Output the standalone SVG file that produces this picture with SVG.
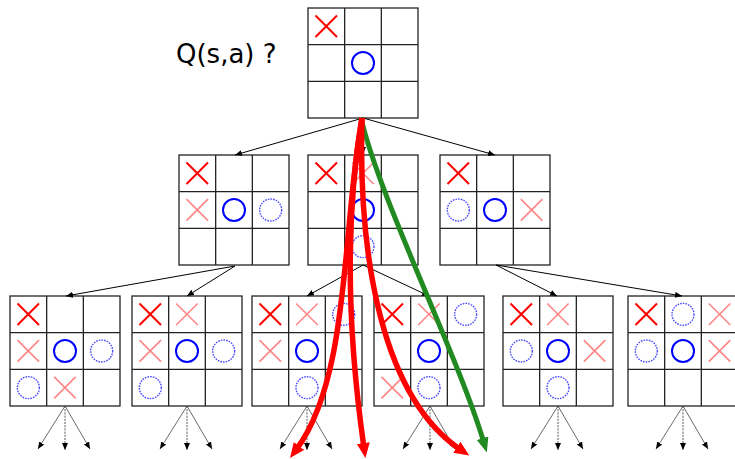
<svg xmlns="http://www.w3.org/2000/svg" xmlns:xlink="http://www.w3.org/1999/xlink" width="735" height="459" viewBox="0 0 735 459">
<style>
.grid{fill:#fff;stroke:#222;stroke-width:1.3}
.gl{stroke:#222;stroke-width:1.3}
.xs{stroke:#f00;stroke-width:2;fill:none}
.xf{stroke:#ff7070;stroke-width:1.6;fill:none;stroke-opacity:0.85}
.os{stroke:#00f;stroke-width:2;fill:none}
.od{stroke:#4a4aff;stroke-width:1.4;fill:none;stroke-dasharray:1.6 1.1}
.conn{stroke:#000;stroke-width:1;fill:none}
.fan{stroke:#444;stroke-width:0.8;fill:none}
.fand{stroke:#444;stroke-width:0.9;fill:none;stroke-dasharray:2 1.2}
.red{stroke:#f00;stroke-width:5.5;fill:none}
.green{stroke:#218a21;stroke-width:5;fill:none}
.lbl{font-family:"DejaVu Sans",sans-serif;font-size:26px;fill:#000}
</style>
<defs>
<marker id="ah" markerUnits="userSpaceOnUse" markerWidth="8" markerHeight="7" refX="7" refY="3" orient="auto"><path d="M0,0 L7,3 L0,6 z" fill="#000"/></marker>
<marker id="ahr" markerUnits="userSpaceOnUse" markerWidth="16" markerHeight="14" refX="5" refY="6.5" orient="auto"><path d="M0,0 L15,6.5 L0,13 z" fill="#f00"/></marker>
<marker id="ahg" markerUnits="userSpaceOnUse" markerWidth="16" markerHeight="14" refX="5" refY="6" orient="auto"><path d="M0,0 L15,6 L0,12 z" fill="#218a21"/></marker>
<g id="board"><rect class="grid" x="0" y="0" width="110" height="110"/><path class="gl" d="M36.67,0V110M73.33,0V110M0,36.67H110M0,73.33H110"/></g>
<g id="X"><path class="xs" d="M7.5,7.5L29,29M29,7.5L7.5,29"/></g>
<g id="XF"><path class="xf" d="M7.5,7.5L29,29M29,7.5L7.5,29"/></g>
<g id="O"><circle class="os" cx="18.33" cy="18.33" r="11"/></g>
<g id="OD"><circle class="od" cx="18.33" cy="18.33" r="11"/></g>
<g id="fan">
<path class="fan" marker-end="url(#ah)" d="M0,0L-27,43"/>
<path class="fan" marker-end="url(#ah)" d="M0,0L25,43"/>
<path class="fand" marker-end="url(#ah)" d="M0,0L0,44"/>
</g>
</defs>
<rect width="735" height="459" fill="#fff"/>
<text class="lbl" x="176" y="63">Q(s,a) ?</text>

<g id="root" transform="translate(308,8)">
<use xlink:href="#board"/><use xlink:href="#X"/><use xlink:href="#O" x="36.67" y="36.67"/>
</g>
<g id="m1" transform="translate(179,155)">
<use xlink:href="#board"/><use xlink:href="#X"/><use xlink:href="#XF" y="36.67"/><use xlink:href="#O" x="36.67" y="36.67"/><use xlink:href="#OD" x="73.33" y="36.67"/>
</g>
<g id="m2" transform="translate(308,155)">
<use xlink:href="#board"/><use xlink:href="#X"/><use xlink:href="#XF" x="36.67"/><use xlink:href="#O" x="36.67" y="36.67"/><use xlink:href="#OD" x="36.67" y="73.33"/>
</g>
<g id="m3" transform="translate(440,155)">
<use xlink:href="#board"/><use xlink:href="#X"/><use xlink:href="#OD" y="36.67"/><use xlink:href="#O" x="36.67" y="36.67"/><use xlink:href="#XF" x="73.33" y="36.67"/>
</g>
<g id="b1" transform="translate(10,296)">
<use xlink:href="#board"/><use xlink:href="#X"/><use xlink:href="#XF" y="36.67"/><use xlink:href="#O" x="36.67" y="36.67"/><use xlink:href="#OD" x="73.33" y="36.67"/><use xlink:href="#OD" y="73.33"/><use xlink:href="#XF" x="36.67" y="73.33"/>
</g>
<g id="b2" transform="translate(132,296)">
<use xlink:href="#board"/><use xlink:href="#X"/><use xlink:href="#XF" x="36.67"/><use xlink:href="#XF" y="36.67"/><use xlink:href="#O" x="36.67" y="36.67"/><use xlink:href="#OD" x="73.33" y="36.67"/><use xlink:href="#OD" y="73.33"/>
</g>
<g id="b3" transform="translate(252,296)">
<use xlink:href="#board"/><use xlink:href="#X"/><use xlink:href="#XF" x="36.67"/><use xlink:href="#OD" x="73.33"/><use xlink:href="#XF" y="36.67"/><use xlink:href="#O" x="36.67" y="36.67"/><use xlink:href="#OD" x="36.67" y="73.33"/>
</g>
<g id="b4" transform="translate(374,296)">
<use xlink:href="#board"/><use xlink:href="#X"/><use xlink:href="#XF" x="36.67"/><use xlink:href="#OD" x="73.33"/><use xlink:href="#O" x="36.67" y="36.67"/><use xlink:href="#XF" y="73.33"/><use xlink:href="#OD" x="36.67" y="73.33"/>
</g>
<g id="b5" transform="translate(503,296)">
<use xlink:href="#board"/><use xlink:href="#X"/><use xlink:href="#XF" x="36.67"/><use xlink:href="#OD" y="36.67"/><use xlink:href="#O" x="36.67" y="36.67"/><use xlink:href="#XF" x="73.33" y="36.67"/><use xlink:href="#OD" x="36.67" y="73.33"/>
</g>
<g id="b6" transform="translate(628,296)">
<use xlink:href="#board"/><use xlink:href="#X"/><use xlink:href="#OD" x="36.67"/><use xlink:href="#XF" x="73.33"/><use xlink:href="#OD" y="36.67"/><use xlink:href="#O" x="36.67" y="36.67"/><use xlink:href="#XF" x="73.33" y="36.67"/>
</g>

<g id="connectors">
<path class="conn" marker-end="url(#ah)" d="M363,118L235,155"/>
<path class="conn" marker-end="url(#ah)" d="M363,118L363,154"/>
<path class="conn" marker-end="url(#ah)" d="M363,118L495,155"/>
<path class="conn" marker-end="url(#ah)" d="M235,266L66,296"/>
<path class="conn" marker-end="url(#ah)" d="M235,266L187,296"/>
<path class="conn" marker-end="url(#ah)" d="M363,265L307,296"/>
<path class="conn" marker-end="url(#ah)" d="M363,265L429,296"/>
<path class="conn" marker-end="url(#ah)" d="M496,265L557,296"/>
<path class="conn" marker-end="url(#ah)" d="M496,265L682,296"/>
<use xlink:href="#fan" x="65" y="406"/>
<use xlink:href="#fan" x="187" y="406"/>
<use xlink:href="#fan" x="307" y="406"/>
<use xlink:href="#fan" x="430" y="406"/>
<use xlink:href="#fan" x="558" y="406"/>
<use xlink:href="#fan" x="683" y="406"/>
<path class="green" marker-end="url(#ahg)" d="M361,118C380,200 458,355 484,443"/>
<path class="red" marker-end="url(#ahr)" d="M362,118C342,230 350,378 296,450"/>
<path class="red" marker-end="url(#ahr)" d="M362,118C343,230 350,350 364,448"/>
<path class="red" marker-end="url(#ahr)" d="M362,118C358,260 383,398 461,450"/>
</g>
</svg>
